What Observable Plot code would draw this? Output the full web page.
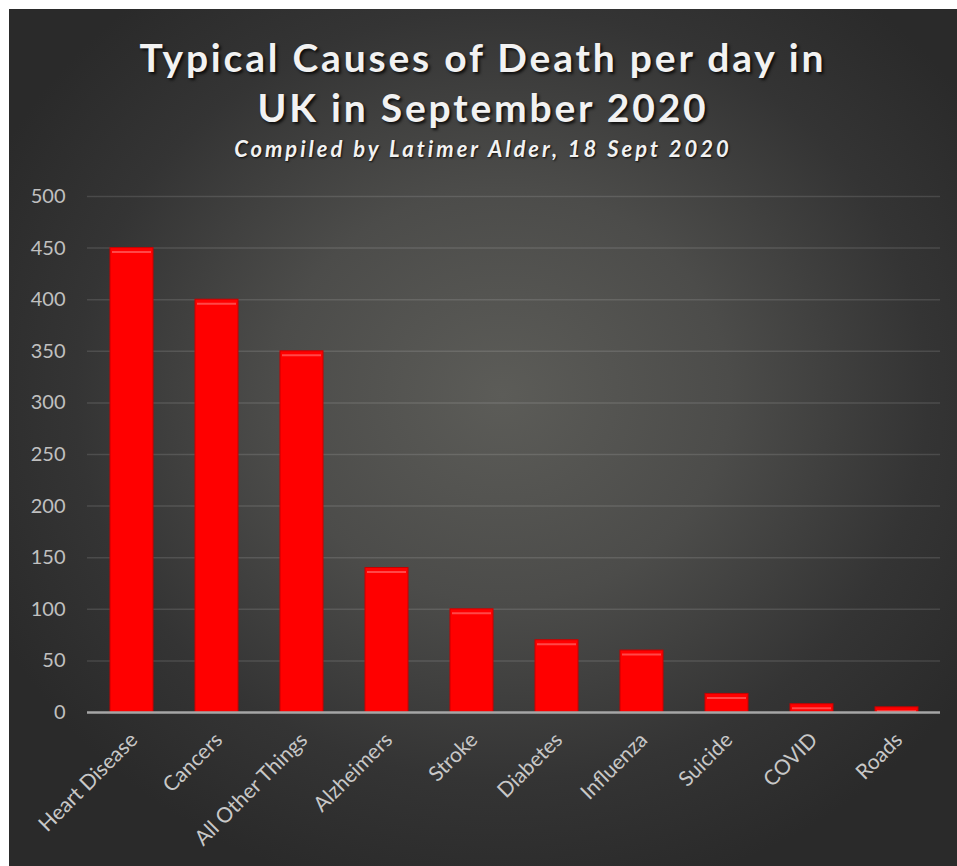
<!DOCTYPE html>
<html>
<head>
<meta charset="utf-8">
<script src="https://cdn.jsdelivr.net/npm/d3@7"></script>
<script src="https://cdn.jsdelivr.net/npm/@observablehq/plot@0.6"></script>
<style>
  html, body { margin: 0; padding: 0; background: #ffffff; }
  #frame {
    position: absolute; left: 9px; top: 9px; width: 948px; height: 857px;
    background: radial-gradient(ellipse 60% 60% at 52% 45%, #5c5c58 0%, #4c4c4a 40%, #343434 75%, #2a2a2a 100%);
    overflow: hidden;
  }
  .t1 {
    position: absolute; left: 0; width: 948px; text-align: center;
    font-family: Lato, "Open Sans", sans-serif; font-weight: 700; color: #f2f2f2;
    text-shadow: 2px 2px 3px rgba(0,0,0,0.8);
    font-size: 39px; letter-spacing: 2.8px; line-height: 1; white-space: nowrap;
  }
  .sub {
    position: absolute; left: 0; width: 948px; text-align: center;
    font-family: Lato, "Open Sans", sans-serif; font-weight: 700; font-style: italic; color: #f2f2f2;
    text-shadow: 1px 1px 2px rgba(0,0,0,0.8);
    font-size: 22px; letter-spacing: 3px; line-height: 1; white-space: nowrap;
  }
  #chart { position: absolute; left: 0; top: 161px; }
</style>
</head>
<body>
<div id="frame">
  <div class="t1" style="top:29px">Typical Causes of Death per day in</div>
  <div class="t1" style="top:79px">UK in September 2020</div>
  <div class="sub" style="top:129px">Compiled by Latimer Alder, 18 Sept 2020</div>
  <div id="chart"></div>
</div>
<script>
const causes = ["Heart Disease", "Cancers", "All Other Things", "Alzheimers", "Stroke", "Diabetes", "Influenza", "Suicide", "COVID", "Roads"];
const deathsPerDay = [450, 400, 350, 140, 100, 70, 60, 18, 8, 5];
const yTicks = [0, 50, 100, 150, 200, 250, 300, 350, 400, 450, 500];

const data = causes.map((c, i) => ({cause: c, value: deathsPerDay[i]}));

const chart = Plot.plot({
  width: 948,
  height: 696,
  marginLeft: 78,
  marginRight: 17,
  marginTop: 26,
  marginBottom: 154,
  style: {background: "transparent", color: "#bfbfbf", fontFamily: "Lato, 'Open Sans', sans-serif", fontSize: "20px"},
  x: {domain: causes, paddingInner: 0.5, paddingOuter: 0.24, label: null},
  y: {domain: [0, 500], label: null},
  marks: [
    Plot.gridY(yTicks.filter(d => d > 0), {stroke: "#ffffff", strokeOpacity: 0.12, strokeWidth: 1.5}),
    Plot.axisY({ticks: yTicks, tickSize: 0, tickPadding: 22, fontSize: 20, fill: "#c0c0c0", label: null}),
    Plot.axisX({tickSize: 0, tickRotate: -45, tickPadding: 24, fontSize: 21, fill: "#c8c8c8", label: null, dx: 2}),
    Plot.barY(data, {x: "cause", y: "value", fill: "#ff0000", stroke: "#c80000", strokeWidth: 1}),
    Plot.tickY(data, {x: "cause", y: "value", stroke: "#ff4848", strokeWidth: 2, dy: 4, inset: 2}),
    Plot.ruleY([0], {stroke: "#a6a6a6", strokeWidth: 2.5})
  ]
});
document.getElementById("chart").appendChild(chart);
</script>
</body>
</html>
